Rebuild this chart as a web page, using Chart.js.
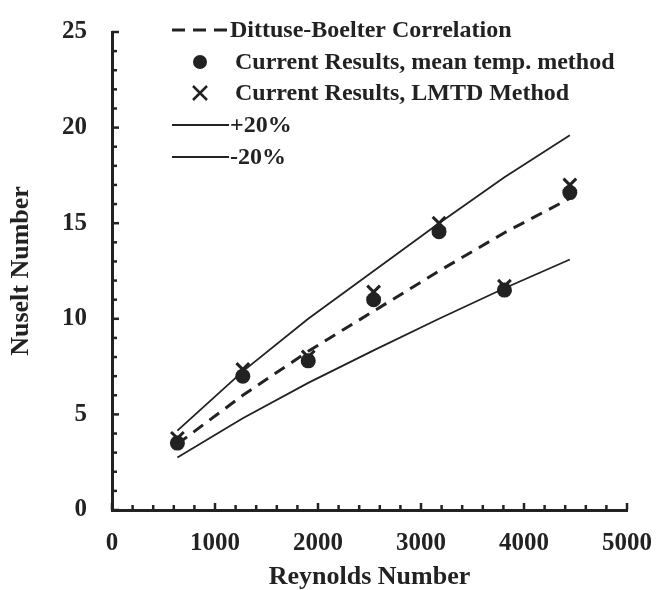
<!DOCTYPE html>
<html>
<head>
<meta charset="utf-8">
<script src="https://cdn.jsdelivr.net/npm/chart.js@4/dist/chart.umd.min.js"></script>
<style>
  html, body { margin: 0; padding: 0; background: #fff; }
  #wrap { width: 666px; height: 590px; }
</style>
</head>
<body>
<div id="wrap"><canvas id="chart" width="666" height="590"></canvas></div>
<script>
// Reynolds numbers of the test runs
const reynolds = [635, 1270, 1905, 2540, 3175, 3810, 4445];

// Nusselt numbers
const dittusBoelter = [3.45, 6.0, 8.3, 10.4, 12.5, 14.5, 16.3];
const plus20 = [4.15, 7.25, 10.0, 12.5, 15.0, 17.4, 19.6];
const minus20 = [2.75, 4.8, 6.65, 8.35, 10.0, 11.6, 13.1];
const meanTemp = [3.5, 7.0, 7.8, 11.0, 14.55, 11.5, 16.6];
const lmtd = [3.75, 7.35, 8.0, 11.4, 15.0, 11.7, 17.0];

// Axis ticks
const xTicks = [0, 1000, 2000, 3000, 4000, 5000];
const yTicks = [0, 5, 10, 15, 20, 25];

const ink = '#222';
const serif = '"Liberation Serif", "Times New Roman", serif';

const toPoints = (ys) => reynolds.map((x, i) => ({ x: x, y: ys[i] }));

// Inward minor / major ticks on both axes
const axisTicks = {
    id: 'axisTicks',
    afterDraw(chart) {
        const { ctx, chartArea, scales } = chart;
        ctx.save();
        ctx.strokeStyle = ink;
        ctx.lineWidth = 2.5;
        for (let v = 0; v <= 5000; v += 200) {
            const px = scales.x.getPixelForValue(v);
            const len = v % 1000 === 0 ? 7 : 5;
            ctx.beginPath();
            ctx.moveTo(px, chartArea.bottom);
            ctx.lineTo(px, chartArea.bottom - len);
            ctx.stroke();
        }
        for (let v = 0; v <= 25; v += 1) {
            const py = scales.y.getPixelForValue(v);
            const len = v % 5 === 0 ? 7 : 5;
            ctx.beginPath();
            ctx.moveTo(chartArea.left, py);
            ctx.lineTo(chartArea.left + len, py);
            ctx.stroke();
        }
        ctx.restore();
    }
};

// Legend drawn inside the plot, top left
const plotLegend = {
    id: 'plotLegend',
    afterDraw(chart) {
        const { ctx } = chart;
        const rows = [
            { ds: 0, y: 30, kind: 'dash' },
            { ds: 3, y: 62, kind: 'circle' },
            { ds: 4, y: 93, kind: 'cross' },
            { ds: 1, y: 125, kind: 'line' },
            { ds: 2, y: 157, kind: 'line' }
        ];
        ctx.save();
        ctx.fillStyle = ink;
        ctx.strokeStyle = ink;
        ctx.font = 'bold 24px ' + serif;
        ctx.textBaseline = 'middle';
        rows.forEach(r => {
            const label = chart.data.datasets[r.ds].label;
            let tx = 230;
            if (r.kind === 'dash') {
                ctx.lineWidth = 3;
                ctx.setLineDash([13, 8]);
                ctx.beginPath();
                ctx.moveTo(172, r.y);
                ctx.lineTo(229, r.y);
                ctx.stroke();
                ctx.setLineDash([]);
            } else if (r.kind === 'line') {
                ctx.lineWidth = 1.8;
                ctx.beginPath();
                ctx.moveTo(172, r.y);
                ctx.lineTo(229, r.y);
                ctx.stroke();
            } else if (r.kind === 'circle') {
                ctx.beginPath();
                ctx.arc(200, r.y, 7, 0, Math.PI * 2);
                ctx.fill();
                tx = 235;
            } else {
                ctx.lineWidth = 2.5;
                ctx.beginPath();
                ctx.moveTo(193, r.y - 7); ctx.lineTo(207, r.y + 7);
                ctx.moveTo(207, r.y - 7); ctx.lineTo(193, r.y + 7);
                ctx.stroke();
                tx = 235;
            }
            ctx.fillText(label, tx, r.y + 1);
        });
        ctx.restore();
    }
};

new Chart(document.getElementById('chart'), {
    type: 'scatter',
    data: {
        datasets: [
            {
                label: 'Dittuse-Boelter Correlation',
                data: toPoints(dittusBoelter),
                showLine: true,
                borderColor: ink,
                borderWidth: 3,
                borderDash: [12, 8],
                pointRadius: 0,
                order: 2
            },
            {
                label: '+20%',
                data: toPoints(plus20),
                showLine: true,
                borderColor: ink,
                borderWidth: 1.8,
                pointRadius: 0,
                order: 3
            },
            {
                label: '-20%',
                data: toPoints(minus20),
                showLine: true,
                borderColor: ink,
                borderWidth: 1.8,
                pointRadius: 0,
                order: 4
            },
            {
                label: 'Current Results, mean temp. method',
                data: toPoints(meanTemp),
                pointStyle: 'circle',
                pointRadius: 7.5,
                backgroundColor: ink,
                borderColor: ink,
                borderWidth: 0,
                order: 0
            },
            {
                label: 'Current Results, LMTD Method',
                data: toPoints(lmtd),
                pointStyle: 'crossRot',
                pointRadius: 9,
                borderColor: ink,
                borderWidth: 3,
                order: 1
            }
        ]
    },
    options: {
        responsive: false,
        animation: false,
        layout: { padding: { top: 19, right: 39, bottom: 0, left: 0 } },
        plugins: {
            legend: { display: false },
            tooltip: { enabled: false }
        },
        scales: {
            x: {
                type: 'linear',
                min: 0,
                max: 5000,
                afterFit(scale) { scale.height = 80; },
                afterBuildTicks(scale) { scale.ticks = xTicks.map(v => ({ value: v })); },
                ticks: {
                    color: ink,
                    padding: 11,
                    maxRotation: 0,
                    callback: (v) => String(v),
                    font: { family: serif, size: 25, weight: 'bold' }
                },
                grid: { display: false },
                border: { display: true, color: ink, width: 3 },
                title: {
                    display: true,
                    text: 'Reynolds Number',
                    color: ink,
                    padding: { top: 0, bottom: 0 },
                    font: { family: serif, size: 26, weight: 'bold', lineHeight: 1.0 }
                }
            },
            y: {
                min: 0,
                max: 25,
                afterFit(scale) { scale.width = 112; },
                afterBuildTicks(scale) { scale.ticks = yTicks.map(v => ({ value: v })); },
                ticks: {
                    color: ink,
                    padding: 17,
                    callback: (v) => String(v),
                    font: { family: serif, size: 25, weight: 'bold' }
                },
                grid: { display: false },
                border: { display: true, color: ink, width: 3 },
                title: {
                    display: true,
                    text: 'Nuselt Number',
                    color: ink,
                    padding: { top: 8, bottom: 0 },
                    font: { family: serif, size: 26, weight: 'bold', lineHeight: 1.0 }
                }
            }
        }
    },
    plugins: [axisTicks, plotLegend]
});
</script>
</body>
</html>
